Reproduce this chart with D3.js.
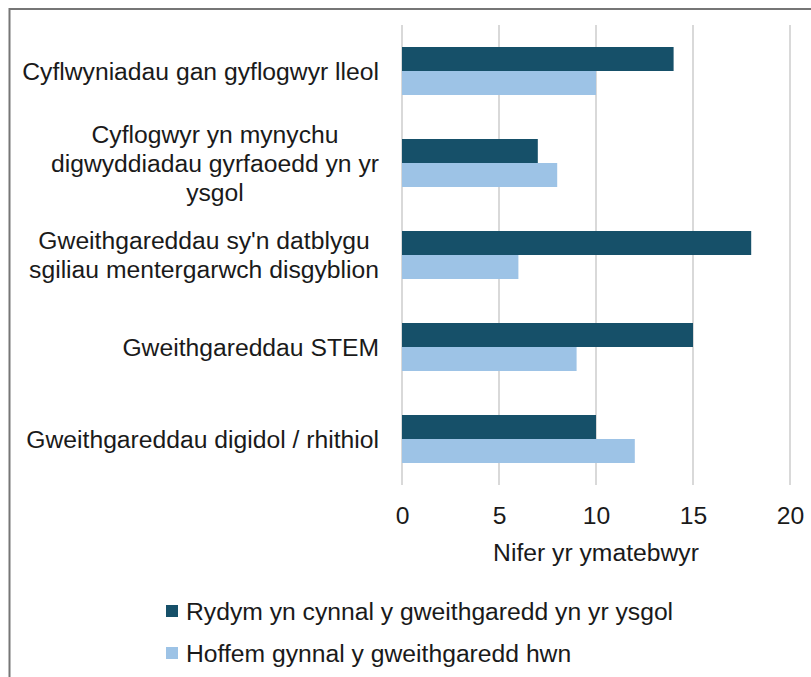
<!DOCTYPE html>
<html>
<head>
<meta charset="utf-8">
<script src="https://cdn.jsdelivr.net/npm/d3@7"></script>
<style>
  html, body { margin: 0; padding: 0; background: #fff; }
  svg { display: block; }
  text { font-family: "Liberation Sans", Arial, sans-serif; fill: #1a1a1a; }
</style>
</head>
<body>
<script>
const categories = [
  ["Cyflwyniadau gan gyflogwyr lleol"],
  ["Cyflogwyr yn mynychu", "digwyddiadau gyrfaoedd yn yr", "ysgol"],
  ["Gweithgareddau sy'n datblygu", "sgiliau mentergarwch disgyblion"],
  ["Gweithgareddau STEM"],
  ["Gweithgareddau digidol / rhithiol"]
];
const seriesNames = [
  "Rydym yn cynnal y gweithgaredd yn yr ysgol",
  "Hoffem gynnal y gweithgaredd hwn"
];
const seriesRun = [14, 7, 18, 15, 10];
const seriesWould = [10, 8, 6, 9, 12];
const xTicks = [0, 5, 10, 15, 20];
const axisTitle = "Nifer yr ymatebwyr";
const colors = ["#165069", "#9dc3e6"];

const W = 811, H = 677;
const FS = 24.7;
const svg = d3.select("body").append("svg").attr("width", W).attr("height", H);

// outer frame (extends beyond the right/bottom edges)
svg.append("rect").attr("x", 9.5).attr("y", 9).attr("width", W + 20).attr("height", H + 20)
  .attr("fill", "none").attr("stroke", "#767676").attr("stroke-width", 2);

const plot = { left: 402, right: 790, top: 25, bottom: 485 };
const x = d3.scaleLinear().domain([0, 20]).range([plot.left, plot.right]);
const pi = 44 / 92;
const y = d3.scaleBand().domain(d3.range(categories.length))
  .range([plot.top, plot.bottom]).paddingInner(pi).paddingOuter(pi / 2);
const ySub = d3.scaleBand().domain([0, 1]).range([0, y.bandwidth()]);

// gridlines
svg.append("g").selectAll("line").data(xTicks).join("line")
  .attr("x1", d => x(d)).attr("x2", d => x(d))
  .attr("y1", plot.top).attr("y2", plot.bottom)
  .attr("stroke", "#d9d9d9").attr("stroke-width", 2);

// bars
const seriesData = [seriesRun, seriesWould];
seriesData.forEach((vals, si) => {
  svg.append("g").selectAll("rect").data(vals).join("rect")
    .attr("x", x(0))
    .attr("y", (d, i) => y(i) + ySub(si))
    .attr("width", d => x(d) - x(0))
    .attr("height", ySub.bandwidth())
    .attr("fill", colors[si]);
});

// x axis tick labels
const xAxis = d3.axisBottom(x).tickValues(xTicks).tickSize(0).tickPadding(0);
const gx = svg.append("g").attr("transform", `translate(0, ${plot.bottom})`).call(xAxis);
gx.attr("font-family", null).attr("font-size", null);
gx.select(".domain").remove();
gx.selectAll("text").attr("font-size", FS)
  .attr("fill", "#1a1a1a").attr("y", 39).attr("dy", "0");

// axis title
svg.append("text").attr("x", (x(0) + x(20)) / 2).attr("y", 552).attr("dy", "0.35em")
  .attr("text-anchor", "middle").attr("font-size", FS).text(axisTitle);

// category labels: block right-aligned, lines centred inside block
const labelRight = 379;
const lineH = 29;
categories.forEach((lines, i) => {
  const cy = y(i) + y.bandwidth() / 2;
  const g = svg.append("g");
  const texts = lines.map((ln, j) => g.append("text")
    .attr("font-size", FS).attr("text-anchor", "middle")
    .attr("y", cy + (j - (lines.length - 1) / 2) * lineH).attr("dy", "0.35em").text(ln));
  const maxW = d3.max(texts, t => t.node().getComputedTextLength());
  texts.forEach(t => t.attr("x", labelRight - maxW / 2));
});

// legend
const legendY = [611, 653];
seriesNames.forEach((name, si) => {
  svg.append("rect").attr("x", 166).attr("y", legendY[si] - 6).attr("width", 12).attr("height", 12)
    .attr("fill", colors[si]);
  svg.append("text").attr("x", 186).attr("y", legendY[si]).attr("dy", "0.35em")
    .attr("font-size", FS).text(name);
});
</script>
</body>
</html>
